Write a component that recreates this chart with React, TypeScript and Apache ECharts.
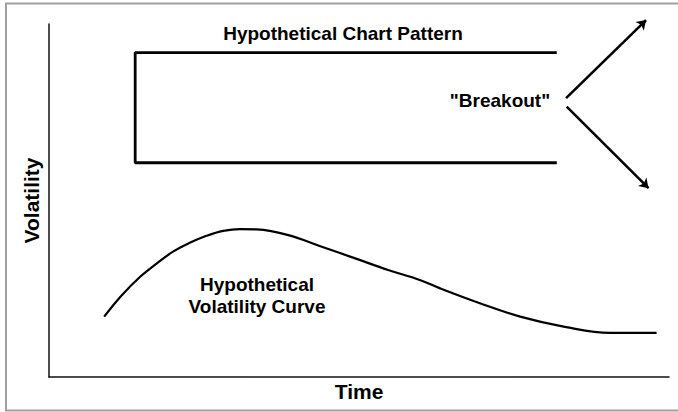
import React, { useEffect, useRef } from "react";
import * as echarts from "echarts";

// Hypothetical volatility curve (time units 0-100, volatility units 0-100)
const curveX = [8.9, 11.6, 14.7, 17.4, 20.0, 22.7, 25.4, 28.1, 30.8, 33.5, 38.6, 44.0, 49.4, 54.7, 59.8, 63.1, 69.5, 76.0, 83.2, 90.5, 98.0];
const curveY = [17.1, 22.9, 28.4, 32.2, 35.5, 38.0, 40.0, 41.4, 41.9, 41.8, 40.2, 36.9, 33.6, 30.3, 27.5, 25.1, 20.9, 17.1, 14.2, 12.5, 12.5];

// Hypothetical chart pattern (open rectangle / trading range)
const patternX = [81.9, 13.9, 13.9, 81.9];
const patternY = [91.9, 91.9, 60.7, 60.7];

// Breakout arrows: start and end points
const breakoutUp = [[83.4, 79.0], [96.3, 101.1]];
const breakoutDown = [[83.5, 76.6], [96.7, 53.5]];

// Texts
const xName = "Time";
const yName = "Volatility";
const patternLabel = "Hypothetical Chart Pattern";
const breakoutLabel = '"Breakout"';
const curveLabel = "Hypothetical\nVolatility Curve";

const FONT = 'Arial, "Liberation Sans", sans-serif';

export default function App() {
  const ref = useRef<HTMLDivElement>(null);
  useEffect(() => {
    if (!ref.current) return;
    const chart = echarts.init(ref.current, undefined, { renderer: "svg" });
    const axisCommon = {
      type: "value" as const,
      min: 0,
      max: 100,
      nameLocation: "middle" as const,
      nameTextStyle: { fontSize: 21, fontWeight: "bold" as const, color: "#000", fontFamily: FONT },
      axisLine: { show: true, lineStyle: { color: "#111", width: 1.5 } },
      axisTick: { show: false },
      axisLabel: { show: false },
      splitLine: { show: false },
    };
    chart.setOption({
      animation: false,
      backgroundColor: "#fff",
      grid: { left: 49, right: 9, top: 24, bottom: 35 },
      xAxis: { ...axisCommon, name: xName, nameGap: 4 },
      yAxis: { ...axisCommon, name: yName, nameGap: 7 },
      series: [
        {
          name: "Volatility Curve",
          type: "line",
          data: curveX.map((x, i) => [x, curveY[i]]),
          smooth: 0.4,
          symbol: "none",
          lineStyle: { color: "#000", width: 2.2 },
          clip: false,
        },
        {
          name: "Chart Pattern",
          type: "line",
          data: patternX.map((x, i) => [x, patternY[i]]),
          symbol: "none",
          lineStyle: { color: "#000", width: 2.8 },
          clip: false,
        },
        {
          name: "Breakout",
          type: "lines",
          coordinateSystem: "cartesian2d",
          symbol: ["none", "arrow"],
          symbolSize: 9,
          clip: false,
          lineStyle: { color: "#000", width: 2.6, opacity: 1 },
          data: [{ coords: breakoutUp }, { coords: breakoutDown }],
        },
      ],
      graphic: [
        {
          type: "rect",
          silent: true,
          z: -1,
          shape: { x: 6, y: 3.5, width: 720, height: 407 },
          style: { fill: "none", stroke: "#a0a0a0", lineWidth: 2 },
        },
        {
          type: "text",
          x: 343,
          y: 33.5,
          style: { text: patternLabel, fontSize: 19, fontWeight: "bold", fontFamily: FONT, fill: "#000", align: "center", verticalAlign: "middle" },
        },
        {
          type: "text",
          x: 500,
          y: 100,
          style: { text: breakoutLabel, fontSize: 19, fontWeight: "bold", fontFamily: FONT, fill: "#000", align: "center", verticalAlign: "middle" },
        },
        {
          type: "text",
          x: 257,
          y: 295.5,
          style: { text: curveLabel, fontSize: 19, lineHeight: 22.7, fontWeight: "bold", fontFamily: FONT, fill: "#000", align: "center", verticalAlign: "middle" },
        },
      ],
    });
    return () => chart.dispose();
  }, []);
  return (
    <div
      ref={ref}
      style={{ position: "fixed", left: 0, top: 0, width: 678, height: 412, background: "#fff" }}
    />
  );
}
